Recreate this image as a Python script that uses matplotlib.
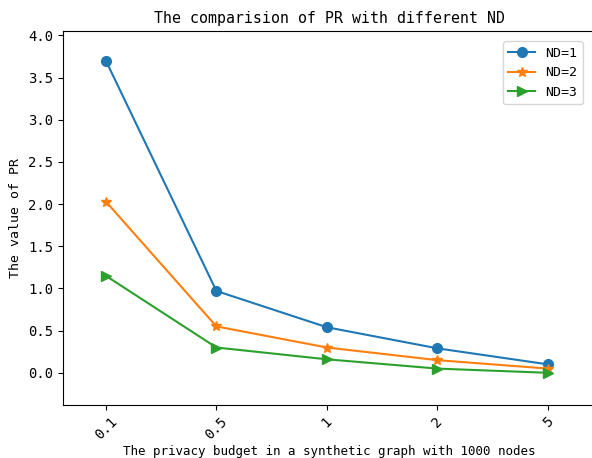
import matplotlib
matplotlib.use('Agg')
import matplotlib.pyplot as plt

plt.rcParams['font.family'] = ['DejaVu Sans Mono']

# privacy budgets (categorical x axis)
budgets = ['0.1', '0.5', '1', '2', '5']
pr_nd1 = [3.70, 0.97, 0.54, 0.29, 0.10]
pr_nd2 = [2.03, 0.55, 0.30, 0.15, 0.05]
pr_nd3 = [1.15, 0.30, 0.16, 0.05, 0.00]

fig = plt.figure(figsize=(5.92, 4.58), dpi=100)
# the reference image is cropped just past the right spine
ax = fig.add_axes([0.106, 0.116, 0.90, 0.816])

x = range(len(budgets))
ax.plot(x, pr_nd1, marker='o', markersize=7, label='ND=1')
ax.plot(x, pr_nd2, marker='*', markersize=7, label='ND=2')
ax.plot(x, pr_nd3, marker='>', markersize=7, label='ND=3')

ax.set_xticks(list(x))
ax.set_xticklabels(budgets, rotation=45)
ax.set_xlim(-0.39, 4.43)
ax.set_ylim(-0.38, 4.05)
ax.set_yticks([0.0, 0.5, 1.0, 1.5, 2.0, 2.5, 3.0, 3.5, 4.0])
ax.tick_params(labelsize=10)

ax.set_title('The comparision of PR with different ND', fontsize=10.7)
ax.set_xlabel('The privacy budget in a synthetic graph with 1000 nodes', fontsize=9, labelpad=2)
ax.set_ylabel('The value of PR', fontsize=9.5)
ax.legend(loc='upper right', fontsize=9.5, bbox_to_anchor=(0.988, 0.99))

fig.savefig('out.png', dpi=100)
